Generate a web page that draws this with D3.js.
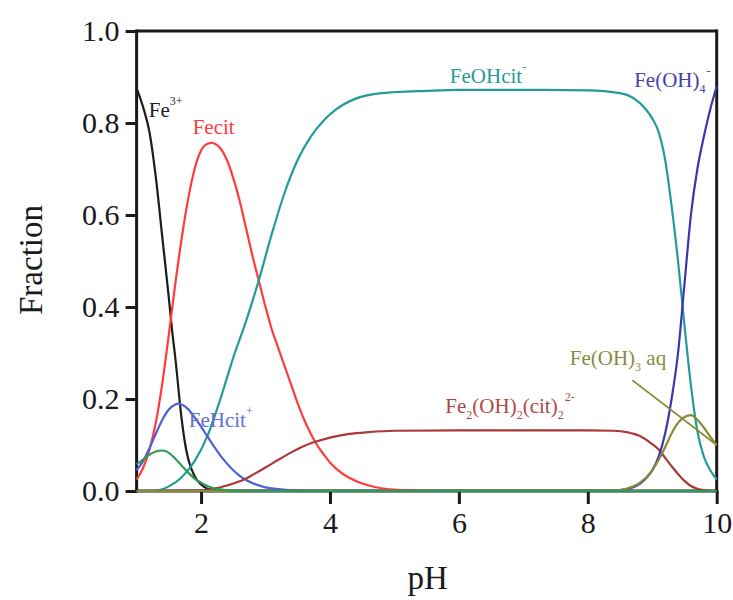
<!DOCTYPE html>
<html>
<head>
<meta charset="utf-8">
<script src="https://cdn.jsdelivr.net/npm/d3@7/dist/d3.min.js"></script>
<style>
  html, body { margin: 0; padding: 0; background: #fff; }
  svg { display: block; }
  text { font-family: "Liberation Serif", "Times New Roman", serif; }
</style>
</head>
<body>
<svg id="chart" width="733" height="600"></svg>
<script>
// Iron speciation in citrate solution: fraction of each species versus pH.
// Each series is a list of [pH, fraction] readings.
const fe3 = [[1.0,0.876],[1.1,0.835],[1.2,0.78],[1.3,0.68],[1.4,0.55],[1.5,0.42],[1.55,0.35],[1.6,0.29],
  [1.7,0.155],[1.75,0.105],[1.8,0.07],[1.9,0.032],[2.0,0.014],[2.1,0.005],[2.3,0.001],[2.5,0],[10,0]];

const fecit = [[1.0,0.025],[1.1,0.05],[1.2,0.09],[1.3,0.15],[1.4,0.235],[1.5,0.34],[1.6,0.45],[1.7,0.55],
  [1.8,0.635],[1.9,0.70],[2.0,0.74],[2.1,0.755],[2.17,0.757],[2.2,0.756],[2.3,0.745],[2.4,0.72],[2.5,0.68],
  [2.6,0.63],[2.7,0.57],[2.8,0.51],[2.9,0.455],[3.0,0.40],[3.1,0.35],[3.2,0.31],[3.3,0.27],[3.4,0.23],
  [3.5,0.19],[3.6,0.155],[3.7,0.125],[3.8,0.10],[3.9,0.08],[4.0,0.062],[4.2,0.037],[4.4,0.022],[4.6,0.012],
  [4.8,0.006],[5.0,0.003],[5.3,0.001],[5.6,0],[10,0]];

const feohcit = [[1.0,0],[1.25,0],[1.5,0.01],[1.7,0.03],[1.9,0.065],[2.1,0.12],[2.3,0.2],[2.5,0.29],
  [2.7,0.37],[2.9,0.46],[3.1,0.56],[3.3,0.65],[3.5,0.72],[3.7,0.77],[3.9,0.805],[4.1,0.83],[4.4,0.853],
  [4.8,0.865],[5.5,0.87],[6.0,0.872],[7.0,0.872],[8.0,0.871],[8.5,0.865],[8.7,0.855],[8.9,0.83],[9.0,0.81],
  [9.1,0.78],[9.2,0.72],[9.3,0.62],[9.4,0.5],[9.5,0.36],[9.6,0.23],[9.7,0.13],[9.8,0.075],[9.9,0.045],[10,0.025]];

const fehcit = [[1.0,0.045],[1.1,0.065],[1.2,0.093],[1.3,0.125],[1.4,0.155],[1.5,0.177],[1.6,0.188],
  [1.65,0.19],[1.7,0.188],[1.8,0.178],[1.9,0.16],[2.0,0.14],[2.1,0.118],[2.2,0.097],[2.3,0.077],[2.4,0.06],
  [2.5,0.045],[2.6,0.033],[2.7,0.024],[2.8,0.017],[3.0,0.008],[3.2,0.004],[3.5,0.001],[4.0,0],[10,0]];

const fe2oh2cit2 = [[1.0,0],[2.0,0.001],[2.2,0.005],[2.4,0.012],[2.6,0.021],[2.8,0.035],[3.0,0.051],
  [3.2,0.068],[3.4,0.084],[3.6,0.098],[3.8,0.108],[4.0,0.116],[4.3,0.124],[4.6,0.128],[5.0,0.131],
  [6.0,0.132],[7.0,0.132],[8.0,0.132],[8.4,0.131],[8.6,0.128],[8.8,0.12],[9.0,0.102],[9.1,0.09],
  [9.2,0.072],[9.3,0.054],[9.4,0.037],[9.5,0.022],[9.6,0.011],[9.7,0.005],[9.8,0.002],[10,0]];

const feoh4 = [[1.0,0],[8.4,0.001],[8.6,0.004],[8.8,0.015],[9.0,0.045],[9.1,0.075],[9.2,0.125],[9.3,0.2],
  [9.4,0.3],[9.5,0.45],[9.6,0.6],[9.7,0.7],[9.8,0.77],[9.9,0.83],[10,0.88]];

const feoh3 = [[1.0,0],[8.4,0.001],[8.6,0.005],[8.8,0.017],[9.0,0.045],[9.1,0.068],[9.2,0.095],[9.3,0.125],
  [9.4,0.148],[9.5,0.161],[9.6,0.165],[9.7,0.155],[9.8,0.138],[9.9,0.118],[10,0.1]];

const fehcitOther = [[1.0,0.058],[1.1,0.068],[1.2,0.079],[1.3,0.086],[1.4,0.088],[1.5,0.083],[1.6,0.07],
  [1.7,0.055],[1.8,0.04],[1.9,0.027],[2.0,0.018],[2.1,0.011],[2.2,0.006],[2.4,0.002],[2.6,0],[10,0]];

const xTicks = [2, 4, 6, 8, 10];
const yTicks = [0, 0.2, 0.4, 0.6, 0.8, 1.0];

// Drawing order: later series sit on top where curves lie along zero.
const series = [
  { data: fe3,         color: "#1c1c1c" },
  { data: fecit,       color: "#ff3b3b" },
  { data: feohcit,     color: "#239c97" },
  { data: fehcit,      color: "#4f5fd6" },
  { data: fe2oh2cit2,  color: "#a83a3a" },
  { data: feoh4,       color: "#3b36b0" },
  { data: feoh3,       color: "#8a8a34" },
  { data: fehcitOther, color: "#2e9a55" }
];

const svg = d3.select("#chart");
const x = d3.scaleLinear().domain([1, 10]).range([136.6, 716.7]);
const y = d3.scaleLinear().domain([0, 1]).range([491, 31]);

const line = d3.line()
  .x(d => x(d[0]))
  .y(d => y(d[1]))
  .curve(d3.curveMonotoneX);

// Frame: top and right borders
svg.append("line").attr("x1", x(1)).attr("x2", x(10)).attr("y1", y(1)).attr("y2", y(1))
  .attr("stroke", "#1a1a1a").attr("stroke-width", 3);
svg.append("line").attr("x1", x(10)).attr("x2", x(10)).attr("y1", y(1) - 1.5).attr("y2", y(0))
  .attr("stroke", "#1a1a1a").attr("stroke-width", 3);

// Axes
const yAxis = d3.axisLeft(y).tickValues(yTicks).tickFormat(d3.format(".1f")).tickSize(11).tickPadding(6);
const xAxis = d3.axisBottom(x).tickValues(xTicks).tickFormat(d3.format("d")).tickSize(13).tickPadding(8);

const gy = svg.append("g").attr("transform", `translate(${x(1)},0)`).call(yAxis);
const gx = svg.append("g").attr("transform", `translate(0,${y(0)})`).call(xAxis);

[gx, gy].forEach(g => {
  g.select(".domain").attr("stroke", "#1a1a1a").attr("stroke-width", 3);
  g.selectAll(".tick line").attr("stroke", "#1a1a1a").attr("stroke-width", 3);
  g.selectAll(".tick text")
    .attr("fill", "#1a1a1a")
    .style("font-family", '"Liberation Serif", "Times New Roman", serif')
    .style("font-size", "30px");
});
gy.select(".domain").attr("d", `M0,${y(1) - 1.5}V${y(0) + 1.5}`);
gx.select(".domain").attr("d", `M${x(1) - 1.5},0H${x(10) + 1.5}`);

// Curves
svg.append("g").selectAll("path")
  .data(series)
  .join("path")
  .attr("d", d => line(d.data))
  .attr("fill", "none")
  .attr("stroke", d => d.color)
  .attr("stroke-width", 2.2)
  .attr("stroke-linejoin", "round");

// Axis titles
svg.append("text")
  .attr("transform", "translate(42,260) rotate(-90)")
  .attr("text-anchor", "middle")
  .attr("font-size", 33)
  .attr("fill", "#1a1a1a")
  .text("Fraction");
svg.append("text")
  .attr("x", (x(1) + x(10)) / 2 + 1)
  .attr("y", 589)
  .attr("text-anchor", "middle")
  .attr("font-size", 33)
  .attr("fill", "#1a1a1a")
  .text("pH");

// Species labels: parts are [text, kind] with kind "n" normal, "sub", "sup"
const labels = [
  { at: [1.19, 0.813], color: "#1c1c1c", parts: [["Fe", "n"], ["3+", "sup"]] },
  { at: [1.87, 0.776], color: "#ff3b3b", parts: [["Fecit", "n"]] },
  { at: [5.86, 0.887], color: "#239c97", parts: [["FeOHcit", "n"], ["-", "sup"]] },
  { at: [8.72, 0.878], color: "#4440b0", parts: [["Fe(OH)", "n"], ["4", "sub"], ["-", "sup"]] },
  { at: [1.81, 0.139], color: "#6070d0", parts: [["FeHcit", "n"], ["+", "sup"]] },
  { at: [5.79, 0.170], color: "#b04646", parts: [["Fe", "n"], ["2", "sub"], ["(OH)", "n"], ["2", "sub"],
      ["(cit)", "n"], ["2", "sub"], ["2-", "sup"]] },
  { at: [7.72, 0.274], color: "#8a8a40", parts: [["Fe(OH)", "n"], ["3", "sub"], [" aq", "n"]] }
];

labels.forEach(l => {
  const t = svg.append("text")
    .attr("x", x(l.at[0]))
    .attr("y", y(l.at[1]))
    .attr("fill", l.color)
    .attr("font-size", 21);
  let shift = 0;
  l.parts.forEach(([s, kind], i) => {
    const target = kind === "sub" ? 6 : kind === "sup" ? -12 : 0;
    const ts = t.append("tspan")
      .attr("dy", target - shift)
      .attr("font-size", kind === "n" ? 21 : 12)
      .text(s);
    if (kind === "sup" && i > 0 && l.parts[i - 1][1] === "sub") ts.attr("dx", 1);
    shift = target;
  });
});

// Leader from the Fe(OH)3 aq label to its curve
svg.append("line")
  .attr("x1", x(8.69)).attr("y1", y(0.241))
  .attr("x2", x(10)).attr("y2", y(0.10))
  .attr("stroke", "#8a8a34")
  .attr("stroke-width", 1.8);
</script>
</body>
</html>
